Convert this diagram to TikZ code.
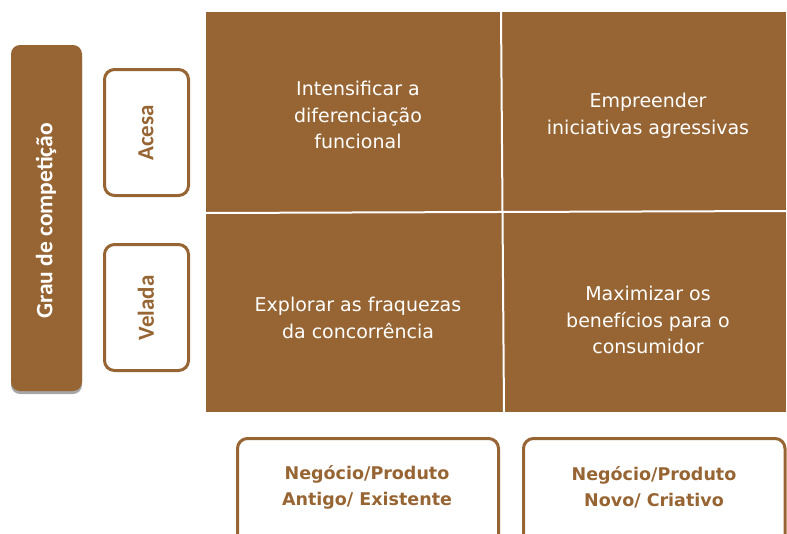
\documentclass[tikz,border=0pt]{standalone}
\usepackage{fontspec}
\setmainfont{DejaVu Sans}
\newfontfamily\calfont{Carlito}
\definecolor{brn}{HTML}{976533}
\begin{document}
\begin{tikzpicture}[x=1pt,y=-1pt,
  celltext/.style={text=white, align=center, font=\fontsize{19}{26.5}\selectfont},
  sidebox/.style={draw=brn, line width=3pt, fill=white, rounded corners=10pt},
  sidelabel/.style={text=brn, font=\calfont\bfseries\fontsize{23}{26}\selectfont, rotate=90},
  botlabel/.style={text=brn, align=center, font=\bfseries\fontsize{17.5}{26}\selectfont}]
\useasboundingbox (0,0) rectangle (787,533);
\clip (0,0) rectangle (787,533);
% left axis bar
\fill[gray!70, rounded corners=9pt] (11,48) rectangle (82,394);
\fill[brn, rounded corners=9pt] (11,45) rectangle (82,391);
\node[text=white, rotate=90, font=\calfont\bfseries\fontsize{23.5}{26}\selectfont] (grau) at (46,221) {Grau de competição};
% side boxes
\draw[sidebox] (104.5,69.5) rectangle (188.5,195.5);
\node[sidelabel] (acesa) at (146,133) {Acesa};
\draw[sidebox] (104.5,244.5) rectangle (188.5,370.5);
\node[sidelabel] (velada) at (146,308) {Velada};
% grid
\fill[brn] (206,12) rectangle (786,412);
\draw[white, line width=2pt] (501,12) -- (504,412);
\draw[white, line width=2pt] (206,213) -- (786,211);
\node[celltext] (c11) at (358,115) {Intensificar a\\diferenciação\\funcional};
\node[celltext] (c12) at (648,116) {Empreender\\iniciativas agressivas};
\node[celltext] (c21) at (358,318) {Explorar as fraquezas\\da concorrência};
\node[celltext] (c22) at (648,320) {Maximizar os\\benefícios para o\\consumidor};
% bottom boxes
\draw[sidebox] (237.5,438.5) rectangle (498.5,560);
\node[botlabel] (b1) at (367,487) {Negócio/Produto\\Antigo/ Existente};
\draw[sidebox] (523.5,438.5) rectangle (785,560);
\node[botlabel] (b2) at (654,487) {Negócio/Produto\\Novo/ Criativo};
\end{tikzpicture}
\end{document}
